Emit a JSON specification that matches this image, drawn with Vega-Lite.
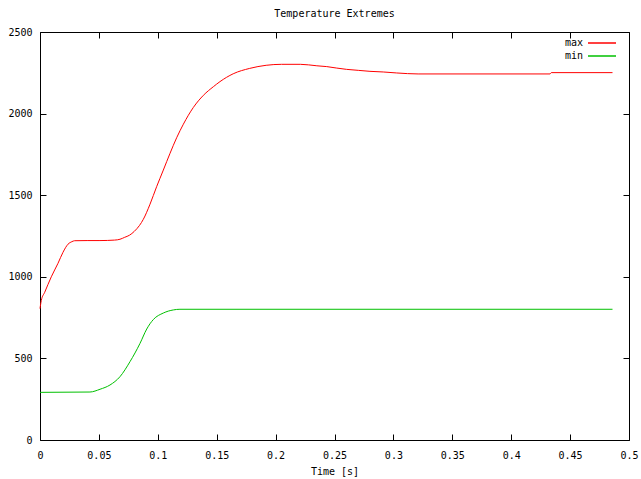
{
  "$schema": "https://vega.github.io/schema/vega-lite/v6.json",
  "width": 589,
  "height": 408,
  "autosize": {"type": "none"},
  "padding": {"left": 40, "top": 32, "right": 12, "bottom": 39},
  "background": "white",
  "title": {"text": "Temperature Extremes", "fontSize": 10, "fontWeight": "normal", "font": "DejaVu Sans Mono", "color": "black", "offset": 8, "anchor": "middle"},
  "config": {
    "font": "DejaVu Sans Mono",
    "view": {"stroke": "black", "strokeWidth": 1},
    "axis": {"labelFont": "DejaVu Sans Mono", "labelFontSize": 10, "labelColor": "black", "titleFont": "DejaVu Sans Mono", "titleFontSize": 10, "titleFontWeight": "normal", "titleColor": "black"},
    "legend": {"labelFont": "DejaVu Sans Mono", "labelFontSize": 10}
  },
  "data": {"values": [
    {"t": 0, "v": 805, "s": "max"},
    {"t": 0.0011, "v": 855, "s": "max"},
    {"t": 0.004, "v": 905, "s": "max"},
    {"t": 0.0096, "v": 1000, "s": "max"},
    {"t": 0.0153, "v": 1083, "s": "max"},
    {"t": 0.0195, "v": 1150, "s": "max"},
    {"t": 0.0238, "v": 1200, "s": "max"},
    {"t": 0.027, "v": 1215, "s": "max"},
    {"t": 0.0294, "v": 1221, "s": "max"},
    {"t": 0.04, "v": 1222, "s": "max"},
    {"t": 0.0509, "v": 1222, "s": "max"},
    {"t": 0.0634, "v": 1225, "s": "max"},
    {"t": 0.0679, "v": 1230, "s": "max"},
    {"t": 0.0719, "v": 1242, "s": "max"},
    {"t": 0.076, "v": 1255, "s": "max"},
    {"t": 0.08, "v": 1278, "s": "max"},
    {"t": 0.0845, "v": 1315, "s": "max"},
    {"t": 0.0877, "v": 1352, "s": "max"},
    {"t": 0.0934, "v": 1445, "s": "max"},
    {"t": 0.099, "v": 1552, "s": "max"},
    {"t": 0.1047, "v": 1654, "s": "max"},
    {"t": 0.1104, "v": 1757, "s": "max"},
    {"t": 0.116, "v": 1852, "s": "max"},
    {"t": 0.1217, "v": 1935, "s": "max"},
    {"t": 0.1302, "v": 2038, "s": "max"},
    {"t": 0.1387, "v": 2112, "s": "max"},
    {"t": 0.1472, "v": 2165, "s": "max"},
    {"t": 0.1528, "v": 2196, "s": "max"},
    {"t": 0.164, "v": 2244, "s": "max"},
    {"t": 0.178, "v": 2277, "s": "max"},
    {"t": 0.192, "v": 2296, "s": "max"},
    {"t": 0.205, "v": 2302, "s": "max"},
    {"t": 0.221, "v": 2302, "s": "max"},
    {"t": 0.235, "v": 2293, "s": "max"},
    {"t": 0.2434, "v": 2288, "s": "max"},
    {"t": 0.2519, "v": 2279, "s": "max"},
    {"t": 0.2603, "v": 2271, "s": "max"},
    {"t": 0.2702, "v": 2265, "s": "max"},
    {"t": 0.2801, "v": 2259, "s": "max"},
    {"t": 0.2914, "v": 2255, "s": "max"},
    {"t": 0.3028, "v": 2249, "s": "max"},
    {"t": 0.321, "v": 2243, "s": "max"},
    {"t": 0.433, "v": 2243, "s": "max"},
    {"t": 0.434, "v": 2251, "s": "max"},
    {"t": 0.486, "v": 2251, "s": "max"},
    {"t": 0, "v": 292, "s": "min"},
    {"t": 0.0424, "v": 294, "s": "min"},
    {"t": 0.051, "v": 311, "s": "min"},
    {"t": 0.0594, "v": 337, "s": "min"},
    {"t": 0.0679, "v": 388, "s": "min"},
    {"t": 0.0764, "v": 480, "s": "min"},
    {"t": 0.0849, "v": 592, "s": "min"},
    {"t": 0.0906, "v": 680, "s": "min"},
    {"t": 0.0962, "v": 738, "s": "min"},
    {"t": 0.1047, "v": 778, "s": "min"},
    {"t": 0.1132, "v": 797, "s": "min"},
    {"t": 0.1188, "v": 801, "s": "min"},
    {"t": 0.486, "v": 801, "s": "min"}
  ]},
  "resolve": {"axis": {"x": "independent", "y": "independent"}},
  "layer": [
    {
      "mark": {"type": "line", "strokeWidth": 1, "interpolate": "monotone"},
      "encoding": {
        "x": {"field": "t", "type": "quantitative", "scale": {"domain": [0, 0.5], "nice": false, "zero": false},
              "axis": {"orient": "bottom", "title": "Time [s]", "grid": false, "domain": false, "labelFlush": false, "tickColor": "#000000", "offset": -6, "tickSize": 6, "tickWidth": 1, "values": [0, 0.05, 0.1, 0.15, 0.2, 0.25, 0.3, 0.35, 0.4, 0.45, 0.5], "format": "~g", "labelPadding": 10, "titlePadding": 6}},
        "y": {"field": "v", "type": "quantitative", "scale": {"domain": [0, 2500], "nice": false},
              "axis": {"orient": "left", "title": null, "grid": false, "domain": false, "tickColor": "#000000", "offset": -6, "tickSize": 6, "tickWidth": 1, "values": [0, 500, 1000, 1500, 2000, 2500], "format": "d", "labelPadding": 8}},
        "color": {"field": "s", "type": "nominal", "scale": {"domain": ["max", "min"], "range": ["#ff0000", "#00c000"]},
                  "legend": {"title": null, "orient": "none", "legendX": 554, "legendY": 3, "symbolType": "M-2,0H2", "symbolSize": 196, "symbolStrokeWidth": 1.5, "labelAlign": "right", "labelOffset": -27, "labelColor": "#000000", "rowPadding": 0}}
      }
    },
    {
      "mark": {"type": "line", "strokeOpacity": 0},
      "encoding": {
        "detail": {"field": "s"},
        "x": {"field": "t", "type": "quantitative", "axis": {"orient": "top", "title": null, "labels": false, "grid": false, "domain": false, "tickColor": "#000000", "offset": -6, "tickSize": 6, "tickWidth": 1, "values": [0, 0.05, 0.1, 0.15, 0.2, 0.25, 0.3, 0.35, 0.4, 0.45, 0.5]}},
        "y": {"field": "v", "type": "quantitative", "axis": {"orient": "right", "title": null, "labels": false, "grid": false, "domain": false, "tickColor": "#000000", "offset": -6, "tickSize": 6, "tickWidth": 1, "values": [0, 500, 1000, 1500, 2000, 2500]}}
      }
    }
  ]
}
